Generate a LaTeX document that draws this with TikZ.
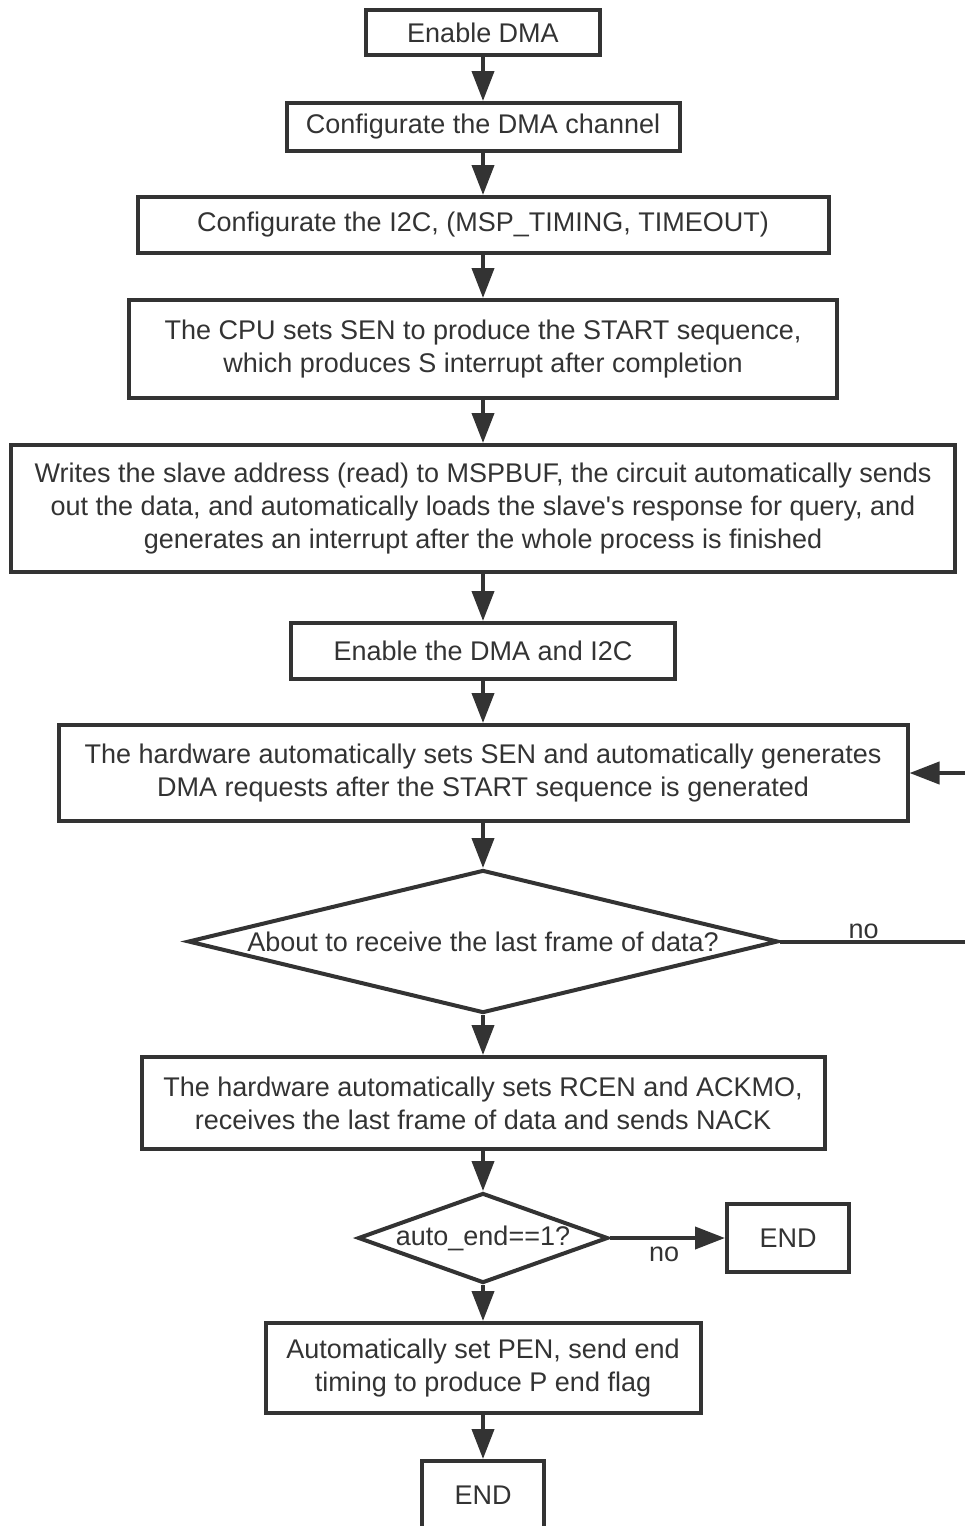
\documentclass[tikz,border=0pt]{standalone}
\usepackage{fontspec}
\setmainfont{Liberation Sans}
\usepackage{xcolor}
\usetikzlibrary{arrows.meta, positioning, shapes.geometric}

\definecolor{ink}{RGB}{51,51,51}

\begin{document}
\begin{tikzpicture}[
    node distance=43pt,
    every node/.style={text=ink, font=\fontsize{27}{33}\selectfont},
    box/.style={rectangle, draw=ink, line width=4pt, align=center, inner sep=4pt},
    decision/.style={diamond, draw=ink, line width=4pt, inner sep=0pt, align=center},
    arrow/.style={-{Triangle[length=30pt, width=22pt]}, draw=ink, line width=4pt},
    line/.style={draw=ink, line width=4pt}
]
\useasboundingbox (0pt,0pt) rectangle (964pt,-1526pt);

\node[box, minimum width=234pt, minimum height=45pt] (en) at (483pt,-32.5pt) {Enable DMA};
\node[box, minimum width=393pt, minimum height=48pt, below=44pt of en] (cfgdma) {Configurate the DMA channel};
\node[box, minimum width=691pt, minimum height=56pt, below=42pt of cfgdma] (cfgi2c) {Configurate the I2C, (MSP\_TIMING, TIMEOUT)};
\node[box, minimum width=708pt, minimum height=98pt, below=43pt of cfgi2c] (start) {The CPU sets SEN to produce the START sequence,\\which produces S interrupt after completion};
\node[box, minimum width=944pt, minimum height=127pt, below=43pt of start] (addr) {Writes the slave address (read) to MSPBUF, the circuit automatically sends\\out the data, and automatically loads the slave\textquotesingle s response for query, and\\generates an interrupt after the whole process is finished};
\node[box, minimum width=384pt, minimum height=56pt, below=47pt of addr] (endmai) {Enable the DMA and I2C};
\node[box, minimum width=849pt, minimum height=96pt, below=42pt of endmai] (hwsen) {The hardware automatically sets SEN and automatically generates\\DMA requests after the START sequence is generated};

\node[decision, minimum width=590pt, minimum height=143pt, below=45pt of hwsen] (last) {\makebox[0pt]{About to receive the last frame of data?}};

\node[box, minimum width=683pt, minimum height=92pt, below=40pt of last] (rcen) {The hardware automatically sets RCEN and ACKMO,\\receives the last frame of data and sends NACK};

\node[decision, minimum width=250pt, minimum height=90pt, below=40pt of rcen] (auto) {\makebox[0pt]{auto\_end==1?}};
\node[box, minimum width=122pt, minimum height=68pt, right=115pt of auto] (endA) {END};

\node[box, minimum width=435pt, minimum height=90pt, below=36pt of auto] (pen) {Automatically set PEN, send end\\timing to produce P end flag};
\node[box, minimum width=122pt, minimum height=68pt, below=44pt of pen] (endB) {END};

% loop back on the right edge
\coordinate[right=190pt of last.east] (loopback);

\draw[arrow] (en) -- (cfgdma);
\draw[arrow] (cfgdma) -- (cfgi2c);
\draw[arrow] (cfgi2c) -- (start);
\draw[arrow] (start) -- (addr);
\draw[arrow] (addr) -- (endmai);
\draw[arrow] (endmai) -- (hwsen);
\draw[arrow] (hwsen) -- (last);
\draw[arrow] (last) -- (rcen);
\draw[arrow] (rcen) -- (auto);
\draw[arrow] (auto) -- (pen);
\draw[arrow] (pen) -- (endB);

\draw[arrow] (last.east) -- node[pos=0.44, above, inner sep=1pt] (no1) {no} (loopback) |- (hwsen.east);
\draw[arrow] (auto.east) -- node[pos=0.47, below, inner sep=7pt] (no2) {no} (endA);

\end{tikzpicture}
\end{document}
